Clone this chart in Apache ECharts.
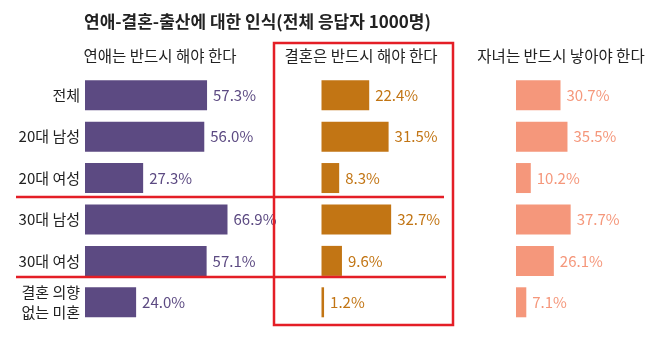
<!DOCTYPE html>
<html><head><meta charset="utf-8">
<script src="https://cdn.jsdelivr.net/npm/echarts@6/dist/echarts.min.js"></script>
<style>html,body{margin:0;padding:0;background:#fff}#c{width:661px;height:343px}</style>
</head><body><div id="c"></div>
<script>
const categories = ['전체','20대 남성','20대 여성','30대 남성','30대 여성','결혼 의향\n없는 미혼'];
const dating = [57.3, 56.0, 27.3, 66.9, 57.1, 24.0];
const marriage = [22.4, 31.5, 8.3, 32.7, 9.6, 1.2];
const children = [30.7, 35.5, 10.2, 37.7, 26.1, 7.1];
const panelTitles = ['연애는 반드시 해야 한다','결혼은 반드시 해야 한다','자녀는 반드시 낳아야 한다'];
const colors = ['#5c4a82','#c27514','#f5977b'];
const FONT = '"Noto Sans CJK KR", "Noto Sans", sans-serif';

const gridLefts = [85, 321.5, 516];
const gridTop = 74.5, gridHeight = 248.5, gridWidth = 213;
const datasets = [dating, marriage, children];
const headerX = [160, 361, 561];

const chart = echarts.init(document.getElementById('c'));
chart.setOption({
  animation: false,
  textStyle: {fontFamily: FONT},
  title: {
    text: '연애-결혼-출산에 대한 인식(전체 응답자 1000명)',
    left: 79, top: 8,
    textStyle: {fontFamily: FONT, fontSize: 17, fontWeight: 'bold', color: '#222'}
  },
  grid: gridLefts.map(l => ({left: l, top: gridTop, width: gridWidth, height: gridHeight})),
  xAxis: gridLefts.map((l, i) => ({
    gridIndex: i, type: 'value', min: 0, max: 100, show: false
  })),
  yAxis: gridLefts.map((l, i) => ({
    gridIndex: i, type: 'category', data: categories, inverse: true,
    axisLine: {show: false}, axisTick: {show: false},
    axisLabel: {show: i === 0, fontFamily: FONT, fontSize: 15, color: '#222', margin: 5, lineHeight: 20, align: 'right'}
  })),
  series: datasets.map((d, i) => ({
    type: 'bar', xAxisIndex: i, yAxisIndex: i, data: d, barWidth: 30,
    itemStyle: {color: colors[i]},
    label: {show: true, position: 'right', distance: 6, formatter: p => p.value.toFixed(1) + '%',
      fontFamily: FONT, fontSize: 15, color: colors[i]}
  })),
  graphic: [
    ...panelTitles.map((t, i) => ({type: 'text', x: headerX[i], y: 48,
      style: {text: t, font: '15.5px ' + FONT, fill: '#222', align: 'center'}})),
    {type: 'rect', shape: {x: 274, y: 43, width: 179, height: 282}, style: {fill: 'none', stroke: '#e41e26', lineWidth: 2.5}, z: 10},
    {type: 'line', shape: {x1: 16, y1: 197, x2: 444, y2: 197}, style: {stroke: '#e41e26', lineWidth: 2.5}, z: 10},
    {type: 'line', shape: {x1: 16, y1: 277, x2: 446, y2: 277}, style: {stroke: '#e41e26', lineWidth: 2.5}, z: 10}
  ]
});
</script></body></html>
